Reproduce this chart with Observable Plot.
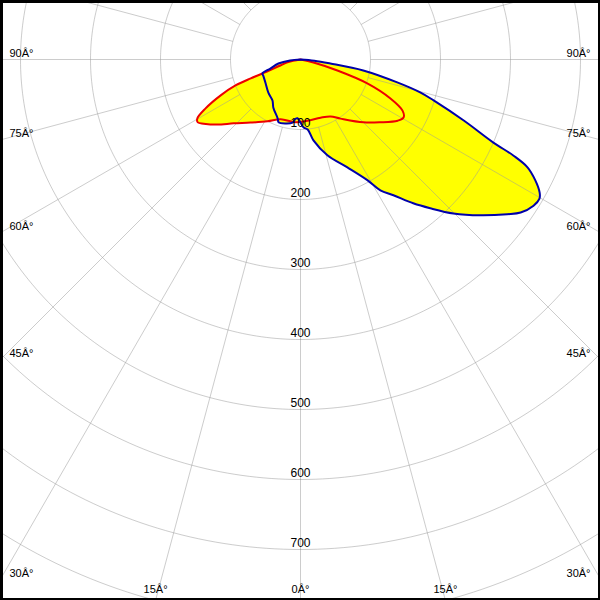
<!DOCTYPE html>
<html>
<head>
<meta charset="utf-8">
<script src="https://cdn.jsdelivr.net/npm/d3@7"></script>
<script src="https://cdn.jsdelivr.net/npm/@observablehq/plot@0.6"></script>
<style>
html, body { margin: 0; padding: 0; background: #fff; overflow: hidden; }
#chart { width: 600px; height: 600px; }
</style>
</head>
<body>
<div id="chart"></div>
<script>
// C0-C180 plane (blue): gamma angle in degrees (negative = C180 side), intensity in cd, in drawing order
const c0Angles = [-90, -85, -79.7, -73.3, -69.8, -66.6, -56.7, -44.1, -34.3, -29.4, -21.3, -19.2, -13.2, -7.2, -4.8, -2.9, 0, 2.5, 6, 9.1, 15.7, 23.5, 29, 31.4, 34.4, 38.1, 41.1, 44.8, 49.1, 53.2, 55.2, 57.9, 59.8, 60.9, 62.8, 64.6, 65.7, 66.7, 69.5, 72.9, 74.6, 76.7, 80.1, 82.4, 85, 90];
const c0Values = [0, 15, 32, 45, 58, 58, 60, 66, 71, 79, 90, 95, 94, 91, 85, 84, 90, 97, 101, 117, 142, 168, 197, 219, 235, 261, 282, 310, 340, 369, 383, 393, 395, 391, 377, 359, 334, 300, 249, 199, 178, 142, 91, 43, 20, 0];

// C90-C270 plane (red)
const c90Angles = [-90, -78, -73.3, -69.8, -69.2, -68.2, -65.8, -62.7, -60.2, -58.5, -56.5, -52, -46.3, -38.4, -28, -18.4, -4.5, 6.5, 19, 27.8, 34.1, 45, 51.8, 57.8, 60.6, 63.4, 66.6, 70.3, 73.4, 77, 90];
const c90Values = [0, 18, 30, 58, 76, 100, 125, 153, 170, 172, 166, 151, 132, 115, 100, 90, 90, 88, 88, 92, 102, 127, 145, 164, 169, 163, 140, 102, 55, 19, 0];

// grid rings and their labels
const ringValues = [100, 200, 300, 400, 500, 600, 700, 800];
const ringLabels = ["100", "200", "300", "400", "500", "600", "700"];

// angle ticks and their labels
const angleTicks = [-90, -75, -60, -45, -30, -15, 0, 15, 30, 45, 60, 75, 90];
const angleLabels = ["90Â°", "75Â°", "60Â°", "45Â°", "30Â°", "15Â°", "0Â°", "15Â°", "30Â°", "45Â°", "60Â°", "75Â°", "90Â°"];

// ---- layout ----
const W = 600, H = 600;
const k = 0.7;          // pixels per cd
const cx = 300, cy = 59; // pole position in pixels
const xDomain = [-cx / k, (W - cx) / k];
const yDomain = [-cy / k, (H - cy) / k];
const rad = a => a * Math.PI / 180;
const pol = (a, r) => ({x: r * Math.sin(rad(a)), y: r * Math.cos(rad(a))});

const c0Pts = c0Angles.map((a, i) => pol(a, c0Values[i]));
const c90Pts = c90Angles.map((a, i) => pol(a, c90Values[i]));

const circlePts = [];
for (const r of ringValues) {
  for (let a = 0; a <= 360; a += 1) circlePts.push({...pol(a, r), r});
}
const radials = d3.range(0, 360, 15).map(a => {
  const p1 = pol(a, ringValues[0]), p2 = pol(a, 2000);
  return {x1: p1.x, y1: p1.y, x2: p2.x, y2: p2.y};
});

const ringText = ringLabels.map((t, i) => ({x: 0, y: ringValues[i], t}));

const sideLeft = [], sideRight = [], bottom = [];
angleTicks.forEach((a, i) => {
  const t = angleLabels[i];
  const abs = Math.abs(a);
  const edgeX = (a < 0 ? xDomain[0] : xDomain[1]);
  const yExit = abs >= 90 ? 0 : (Math.abs(edgeX) / Math.tan(rad(abs)));
  if (yExit <= yDomain[1]) {
    (a < 0 ? sideLeft : sideRight).push({x: edgeX, y: yExit, t});
  } else {
    bottom.push({x: yDomain[1] * Math.tan(rad(a)), y: yDomain[1], t});
  }
});

const gridStroke = "#999999";
const curve = "catmull-rom-closed";

const chart = Plot.plot({
  width: W,
  height: H,
  margin: 0,
  style: {background: "white", fontFamily: "'Liberation Sans', Arial, sans-serif", fontSize: "11px"},
  x: {domain: xDomain, range: [0, W], axis: null},
  y: {domain: yDomain, range: [0, H], axis: null},
  marks: [
    Plot.line(c0Pts, {x: "x", y: "y", curve, fill: "#ffff00", stroke: "none"}),
    Plot.line(c90Pts, {x: "x", y: "y", curve, fill: "#ffff00", stroke: "none"}),
    Plot.line(circlePts, {x: "x", y: "y", z: "r", stroke: gridStroke, strokeOpacity: 0.5, strokeWidth: 1, clip: true}),
    Plot.link(radials, {x1: "x1", y1: "y1", x2: "x2", y2: "y2", stroke: gridStroke, strokeOpacity: 0.5, strokeWidth: 1, clip: true}),
    Plot.line(c90Pts, {x: "x", y: "y", curve, stroke: "#ee0000", strokeWidth: 2}),
    Plot.line(c0Pts, {x: "x", y: "y", curve, stroke: "#0000aa", strokeWidth: 2}),
    Plot.text(ringText, {x: "x", y: "y", text: "t", dy: -6, fontSize: 12, fill: "black", textAnchor: "middle"}),
    Plot.text(sideLeft, {x: "x", y: "y", text: "t", dx: 9, dy: -6, fill: "black", textAnchor: "start"}),
    Plot.text(sideRight, {x: "x", y: "y", text: "t", dx: -10, dy: -6, fill: "black", textAnchor: "end"}),
    Plot.text(bottom, {x: "x", y: "y", text: "t", dy: -11, fill: "black", textAnchor: "middle"}),
    Plot.frame({stroke: "black", strokeWidth: 5})
  ]
});
document.getElementById("chart").appendChild(chart);
</script>
</body>
</html>
